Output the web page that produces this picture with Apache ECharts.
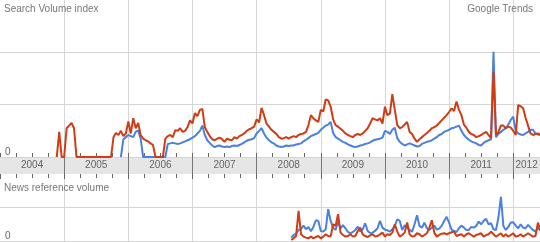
<!DOCTYPE html>
<html><head><meta charset="utf-8">
<script src="https://cdn.jsdelivr.net/npm/echarts@6/dist/echarts.min.js"></script>
<style>html,body{margin:0;padding:0;background:#fff}#c{width:540px;height:242px}</style>
</head><body><div id="c"></div>
<script>
// ---- data (bi-weekly samples, index 0 = start of 2004) ----
const startYear = 2004;
const samplesPerYear = 26;
const yearLabels = [2004, 2005, 2006, 2007, 2008, 2009, 2010, 2011, 2012];

const searchRedStart = 23;
const searchRed = [0,0.48,0,0,0.55,0.6,0.65,0.55,0,
0,0,0,0,0,0,0,0,0,0,0,0,0,0,
0.38,0.46,0.42,0.5,0.4,0.45,0.68,0.45,0.74,0.55,0.65,0.42,0.35,0.32,0.3,0.26,0.23,
0,0,0,0,
0.35,0.4,0.42,0.38,0.51,0.5,0.55,0.48,0.5,0.57,0.7,0.64,0.84,0.78,0.9,0.92,0.57,0.48,0.4,0.34,
0.32,0.35,0.37,0.34,0.29,0.35,0.33,0.32,0.38,0.35,0.4,0.42,0.45,0.5,0.53,0.55,0.58,0.72,0.66,0.94,
0.8,0.64,0.58,0.52,0.48,0.44,0.38,0.35,0.36,0.38,0.35,0.38,0.4,0.38,0.42,0.44,0.45,0.48,0.61,0.8,
0.74,0.7,0.67,0.9,0.87,1.1,1.08,0.96,0.72,0.61,0.58,0.54,0.5,0.45,0.42,0.4,0.38,0.42,0.44,0.42,
0.45,0.5,0.55,0.64,0.74,0.72,0.7,0.74,0.64,0.96,0.8,0.83,1.2,0.9,0.61,0.55,0.57,0.62,0.67,0.48,
0.44,0.35,0.29,0.34,0.38,0.42,0.46,0.5,0.55,0.57,0.6,0.65,0.7,0.75,0.8,0.86,0.93,0.88,1.06,0.9,
0.8,0.62,0.56,0.48,0.44,0.42,0.38,0.4,0.42,0.45,0.48,0.42,0.36,1.63,0.42,0.48,0.6,0.6,0.55,0.58,
0.56,0.5,0.42,0.99,0.97,0.93,0.75,0.6,0.45,0.42,0.44,0.45,0.42];

const searchBlueStart = 49;
const searchBlue = [0,0.34,0.38,0.42,0.4,0.38,0.48,0.51,0.35,0,
0,0,0,0,0,0,0,0,0,
0.25,0.26,0.27,0.26,0.25,0.26,0.28,0.3,0.32,0.34,0.37,0.4,0.45,0.5,0.6,0.42,0.32,0.27,0.22,0.19,
0.21,0.22,0.2,0.19,0.2,0.19,0.21,0.22,0.21,0.23,0.25,0.28,0.31,0.33,0.34,0.36,0.45,0.5,0.55,0.45,
0.37,0.32,0.28,0.26,0.22,0.2,0.19,0.2,0.22,0.21,0.22,0.22,0.24,0.25,0.26,0.3,0.33,0.36,0.4,0.42,
0.44,0.46,0.52,0.56,0.6,0.62,0.67,0.46,0.38,0.35,0.32,0.29,0.27,0.24,0.22,0.2,0.19,0.2,0.22,0.23,
0.25,0.26,0.28,0.31,0.33,0.34,0.35,0.37,0.5,0.48,0.44,0.52,0.56,0.36,0.29,0.25,0.22,0.24,0.26,0.24,
0.22,0.2,0.21,0.25,0.27,0.29,0.3,0.32,0.35,0.38,0.42,0.44,0.48,0.5,0.52,0.55,0.56,0.58,0.6,0.5,
0.42,0.37,0.33,0.3,0.28,0.26,0.23,0.22,0.27,0.3,0.32,0.34,2.01,0.38,0.44,0.48,0.52,0.55,0.62,0.71,
0.77,0.51,0.45,0.43,0.42,0.45,0.48,0.52,0.52,0.45,0.43,0.42];

const newsStart = 118;
const newsBlue = [0.1,0.18,0.22,0.33,0.36,0.46,0.35,0.42,0.29,0.42,0.62,0.6,0.3,0.28,0.35,0.95,0.6,0.4,0.33,0.58,
0.38,0.47,0.38,0.27,0.23,0.27,0.33,0.43,0.28,0.35,0.53,0.3,0.24,0.25,0.3,0.38,0.6,0.4,0.34,0.32,
0.28,0.35,0.45,0.65,0.6,0.33,0.47,0.4,0.33,0.28,0.5,0.77,0.45,0.4,0.55,0.38,0.33,0.4,0.46,0.34,
0.37,0.45,0.6,0.72,0.55,0.34,0.3,0.27,0.38,0.46,0.4,0.33,0.33,0.42,0.4,0.45,0.58,0.5,0.6,0.66,
0.5,0.53,0.35,0.33,0.7,1.32,0.45,0.33,0.42,0.55,0.56,0.46,0.38,0.5,0.4,0.38,0.48,0.4,0.33,0.28,
0.38,0.35];
const newsRed = [0.03,0.08,0.15,0.9,0.2,0.13,0.1,0.08,0.13,0.08,0.12,0.15,0.08,0.13,0.2,0.15,0.13,0.5,0.45,0.8,
0.25,0.18,0.13,0.15,0.2,0.13,0.15,0.3,0.4,0.2,0.15,0.12,0.17,0.2,0.13,0.15,0.2,0.25,0.13,0.2,
0.18,0.25,0.5,0.28,0.13,0.18,0.25,0.55,0.2,0.13,0.15,0.23,0.2,0.13,0.18,0.23,0.4,0.62,0.25,0.13,
0.18,0.22,0.23,0.2,0.23,0.26,0.28,0.15,0.18,0.2,0.13,0.2,0.23,0.18,0.13,0.18,0.2,0.23,0.13,0.18,
0.2,0.28,0.2,0.13,0.18,0.23,0.13,0.2,0.13,0.18,0.23,0.13,0.15,0.2,0.13,0.18,0.23,0.18,0.13,0.15,
0.55,0.3];

// ---- build ----
const toPairs = (arr, start) => arr.map((v, k) => [startYear + (start + k) / samplesPerYear, v]);
const xMin = 2004, xMax = 2012.417;
const FONT = 'Liberation Sans, Arial, sans-serif';
const RED = '#cf3c15', BLUE = '#4a80e0';
const GRID_C = '#d6d6d6';

const chart = echarts.init(document.getElementById('c'), null, {renderer: 'canvas'});

const baseX = (idx) => ({
  type: 'value', gridIndex: idx, min: xMin, max: xMax, interval: 1,
  axisLine: {show: false}, axisLabel: {show: false}
});

chart.setOption({
  animation: false,
  textStyle: {fontFamily: FONT},
  title: [
    {text: 'Search Volume index', left: 4, top: 4, padding: 0,
     textStyle: {fontSize: 10, fontWeight: 'normal', color: '#777', fontFamily: FONT}},
    {text: 'Google Trends', right: 7, top: 4, padding: 0,
     textStyle: {fontSize: 10, fontWeight: 'normal', color: '#777', fontFamily: FONT}},
    {text: 'News reference volume', left: 4, top: 183, padding: 0,
     textStyle: {fontSize: 10, fontWeight: 'normal', color: '#777', fontFamily: FONT}}
  ],
  grid: [
    {left: -1, right: 0, top: 0, height: 157},
    {left: -1, right: 0, top: 157, height: 17, show: true, backgroundColor: '#e6e6e6', borderWidth: 0},
    {left: -1, right: 0, top: 174, bottom: 1}
  ],
  xAxis: [
    Object.assign(baseX(0), {
      axisTick: {show: true, inside: true, length: 4, lineStyle: {color: '#666'}},
      minorTick: {show: true, splitNumber: 4, length: 4, lineStyle: {color: '#666'}},
      splitLine: {show: true, showMinLine: false, showMaxLine: false, lineStyle: {color: GRID_C}}
    }),
    Object.assign(baseX(1), {
      axisTick: {show: true, inside: false, length: 5, lineStyle: {color: '#666'}},
      minorTick: {show: true, splitNumber: 4, length: 4, lineStyle: {color: '#666'}},
      splitLine: {show: true, showMinLine: false, showMaxLine: false, lineStyle: {color: '#777'}}
    }),
    Object.assign(baseX(2), {
      axisTick: {show: false},
      splitLine: {show: true, showMinLine: false, showMaxLine: false, lineStyle: {color: GRID_C}}
    })
  ],
  yAxis: [
    {type: 'value', gridIndex: 0, min: 0, max: 3, interval: 1,
     axisLine: {show: false}, axisTick: {show: false},
     splitLine: {show: true, showMaxLine: false, lineStyle: {color: GRID_C}},
     axisLabel: {inside: true, margin: 5, verticalAlign: 'bottom', fontSize: 10, color: '#666',
       fontFamily: FONT, formatter: v => (v === 0 ? '0' : '')}},
    {type: 'value', gridIndex: 1, min: 0, max: 1, show: false},
    {type: 'value', gridIndex: 2, min: 0, max: 2, interval: 1,
     axisLine: {show: false}, axisTick: {show: false},
     splitLine: {show: true, showMaxLine: false, lineStyle: {color: GRID_C}},
     axisLabel: {inside: true, margin: 5, verticalAlign: 'bottom', fontSize: 10, color: '#666',
       fontFamily: FONT, formatter: v => (v === 0 ? '0' : '')}}
  ],
  series: [
    {type: 'line', xAxisIndex: 0, yAxisIndex: 0, data: toPairs(searchBlue, searchBlueStart),
     showSymbol: false, symbol: 'none', lineStyle: {color: BLUE, width: 2}, itemStyle: {color: BLUE}},
    {type: 'line', xAxisIndex: 0, yAxisIndex: 0, data: toPairs(searchRed, searchRedStart),
     showSymbol: false, symbol: 'none', lineStyle: {color: RED, width: 2}, itemStyle: {color: RED}},
    {type: 'line', xAxisIndex: 2, yAxisIndex: 2, data: toPairs(newsBlue, newsStart),
     showSymbol: false, symbol: 'none', lineStyle: {color: BLUE, width: 2}, itemStyle: {color: BLUE}},
    {type: 'line', xAxisIndex: 2, yAxisIndex: 2, data: toPairs(newsRed, newsStart),
     showSymbol: false, symbol: 'none', lineStyle: {color: RED, width: 2}, itemStyle: {color: RED}},
    {type: 'scatter', xAxisIndex: 1, yAxisIndex: 1, symbolSize: 0, silent: true,
     data: yearLabels.map(y => ({name: String(y), value: [Math.min(y + 0.5, (y + xMax) / 2), 0.5]})),
     label: {show: true, position: 'inside', formatter: p => p.name, fontSize: 10, color: '#444', fontFamily: FONT}}
  ]
});
</script>
</body></html>
